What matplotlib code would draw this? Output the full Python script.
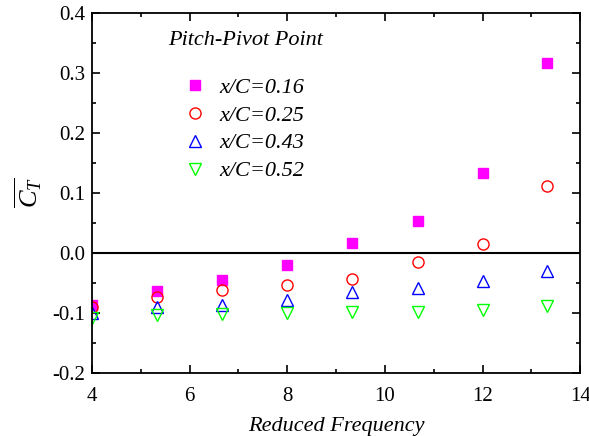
import matplotlib
matplotlib.use('Agg')
import matplotlib.pyplot as plt
from matplotlib.ticker import MultipleLocator, FormatStrFormatter

plt.rcParams['font.family'] = ['Liberation Serif', 'DejaVu Serif']
plt.rcParams['mathtext.fontset'] = 'custom'
plt.rcParams['mathtext.it'] = 'Liberation Serif:italic'
plt.rcParams['mathtext.rm'] = 'Liberation Serif'
plt.rcParams['axes.unicode_minus'] = False

freq = [4.0, 5.33, 6.67, 8.0, 9.33, 10.67, 12.0, 13.33]
ct_016 = [-0.087, -0.064, -0.045, -0.021, 0.016, 0.054, 0.133, 0.317]
ct_025 = [-0.090, -0.074, -0.062, -0.054, -0.044, -0.016, 0.015, 0.111]
ct_043 = [-0.100, -0.090, -0.087, -0.079, -0.066, -0.059, -0.047, -0.030]
ct_052 = [-0.108, -0.103, -0.102, -0.100, -0.099, -0.099, -0.095, -0.088]

fig = plt.figure(figsize=(5.89, 4.36), dpi=100)
ax = fig.add_axes([0.156, 0.145, 0.829, 0.825])

ax.axhline(0, color='black', lw=1.5, zorder=1)

ax.plot(freq, ct_016, 's', ms=7, color='#ff00ff', mec='#ff00ff', label='x/C=0.16')
ax.plot(freq, ct_025, 'o', ms=8, mfc='none', mec='#ff0000', mew=1, label='x/C=0.25')
ax.plot(freq, ct_043, '^', ms=9, mfc='none', mec='#0000ff', mew=1, label='x/C=0.43')
ax.plot(freq, ct_052, 'v', ms=9, mfc='none', mec='#00ff00', mew=1, label='x/C=0.52')

ax.set_xlim(4, 14)
ax.set_ylim(-0.2, 0.4)
ax.xaxis.set_major_locator(MultipleLocator(2))
ax.xaxis.set_minor_locator(MultipleLocator(1))
ax.yaxis.set_major_locator(MultipleLocator(0.1))
ax.yaxis.set_minor_locator(MultipleLocator(0.05))
ax.tick_params(which='both', direction='in', top=True, right=True, width=1.2, labelsize=15)
ax.tick_params(which='major', length=6, pad=5)
ax.tick_params(axis='x', which='major', pad=10)
ax.tick_params(which='minor', length=3)
ax.yaxis.set_major_formatter(FormatStrFormatter('%.1f'))
for s in ax.spines.values():
    s.set_linewidth(1.3)

ax.set_xlabel('Reduced Frequency', fontsize=16, style='italic', labelpad=8)
ax.set_ylabel(r'$\overline{C_T}$', fontsize=19, labelpad=6)

ax.text(0.156, 0.925, 'Pitch-Pivot Point', transform=ax.transAxes, fontsize=16,
        style='italic', va='center', ha='left')
ax.legend(loc='upper left', bbox_to_anchor=(0.189, 0.822), frameon=False,
          prop={'style': 'italic', 'size': 16}, handlelength=1.0,
          handletextpad=0.6, labelspacing=0.33, borderaxespad=0, borderpad=0)

fig.savefig('out.png', dpi=100)
